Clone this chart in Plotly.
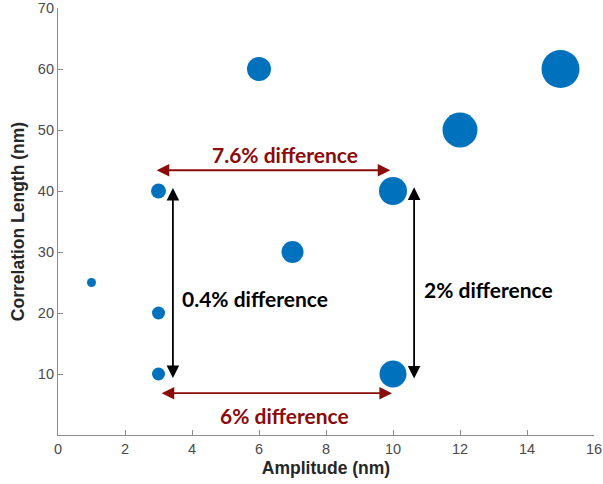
import plotly.graph_objects as go

# Scatter data: amplitude, correlation length, marker diameter (px)
amplitude = [1, 3, 3, 3, 6, 7, 10, 10, 12, 15]
corr_length = [25, 10, 20, 40, 60, 30, 10, 40, 50, 60]
marker_size = [9, 13, 13, 15, 24, 22, 27, 28, 35, 38]

x_ticks = [0, 2, 4, 6, 8, 10, 12, 14, 16]
y_ticks = [10, 20, 30, 40, 50, 60, 70]

# Difference annotations: (label, x0, y0, x1, y1, text_x, text_y, colour)
red = "#8b0a0a"
arrows = [
    ("7.6% difference", 2.9, 43.4, 9.92, 43.4, 6.78, 46.0, red),
    ("6% difference", 3.05, 6.85, 9.97, 6.85, 6.75, 3.2, red),
    ("0.4% difference", 3.43, 9.1, 3.43, 40.5, 5.88, 22.35, "black"),
    ("2% difference", 10.63, 9.0, 10.63, 40.6, 12.86, 23.8, "black"),
]

fig = go.Figure()
fig.add_trace(go.Scatter(
    x=amplitude, y=corr_length, mode="markers",
    marker=dict(size=marker_size, color="#0072BD", opacity=1, line=dict(width=0)),
    hoverinfo="x+y", showlegend=False,
))

for label, x0, y0, x1, y1, tx, ty, col in arrows:
    fig.add_annotation(
        x=x1, y=y1, ax=x0, ay=y0, xref="x", yref="y", axref="x", ayref="y",
        text="", showarrow=True, arrowhead=2, arrowside="end+start",
        arrowsize=1.4, arrowwidth=1.8, arrowcolor=col, standoff=0, startstandoff=0,
    )
    fig.add_annotation(
        x=tx, y=ty, xref="x", yref="y", text=f"<b>{label}</b>", showarrow=False,
        font=dict(family="Lato, Open Sans, sans-serif", size=21, color=col),
    )

axis_common = dict(
    showline=True, linecolor="#8c8c8c", linewidth=1.2, mirror=False,
    ticks="inside", ticklen=5, tickcolor="#8c8c8c", tickwidth=1,
    showgrid=False, zeroline=False, ticklabeloverflow="allow",
    tickfont=dict(family="Liberation Sans, Arial, sans-serif", size=14.5, color="#4a4a4a"),
)
title_font = dict(family="Liberation Sans, Arial, sans-serif", size=17.5, color="#262626")

fig.update_xaxes(
    range=[0, 16], tickvals=x_ticks, ticktext=[str(v) for v in x_ticks],
    title=dict(text="<b>Amplitude (nm)</b>", standoff=6, font=title_font),
    **axis_common,
)
fig.update_yaxes(
    range=[0, 70], tickvals=y_ticks, ticktext=[str(v) for v in y_ticks],
    title=dict(text="<b>Correlation Length (nm)</b>", standoff=8, font=title_font),
    **axis_common,
)

fig.update_layout(
    width=603, height=484,
    margin=dict(l=58, r=9, t=8, b=49, autoexpand=False),
    plot_bgcolor="white", paper_bgcolor="white",
)

fig.write_html("out.html")
